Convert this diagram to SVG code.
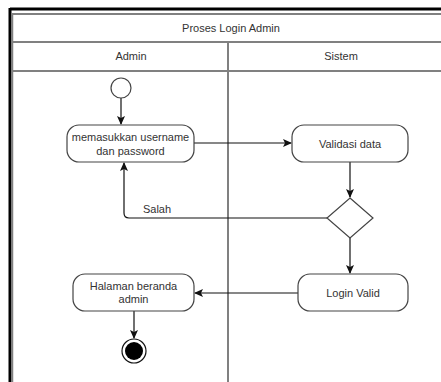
<svg xmlns="http://www.w3.org/2000/svg" width="441" height="382" viewBox="0 0 441 382">
<style>
.lane{stroke:#808080;stroke-width:2;fill:none}
.node{fill:#fff;stroke:#444;stroke-width:1.2}
.t{font-family:"Liberation Sans",Arial,sans-serif;font-size:11px;fill:#333;text-anchor:middle}
.c{stroke:#111;stroke-width:1.2;fill:none}
</style>
<defs>
<marker id="ah" markerWidth="10" markerHeight="10" refX="8" refY="4" orient="auto" markerUnits="userSpaceOnUse">
<path d="M0,0 L9,4 L0,8 L2,4 z" fill="#111"/>
</marker>
</defs>
<rect width="441" height="382" fill="#fff"/>
<g id="frame">
<line x1="10" y1="9" x2="441" y2="9" stroke="#000" stroke-width="3"/>
<line x1="10" y1="8" x2="10" y2="382" stroke="#000" stroke-width="3"/>
<line x1="12.5" y1="14" x2="12.5" y2="382" stroke="#808080" stroke-width="1.5"/>
<line class="lane" x1="12" y1="14" x2="441" y2="14"/>
<line class="lane" x1="12" y1="42" x2="441" y2="42"/>
<line class="lane" x1="12" y1="71" x2="441" y2="71"/>
<line class="lane" x1="228" y1="41" x2="228" y2="382"/>
<text class="t" x="231" y="32">Proses Login Admin</text>
<text class="t" x="131" y="60">Admin</text>
<text class="t" x="341" y="60">Sistem</text>
</g>
<g id="connectors">
<line class="c" x1="121" y1="98" x2="121" y2="124" marker-end="url(#ah)"/>
<line class="c" x1="194" y1="143" x2="291" y2="143" marker-end="url(#ah)"/>
<line class="c" x1="350" y1="162" x2="350" y2="197" marker-end="url(#ah)"/>
<path class="c" d="M328,218 L129,218 Q124,218 124,213 L124,163" marker-end="url(#ah)"/>
<line class="c" x1="350" y1="238" x2="350" y2="273" marker-end="url(#ah)"/>
<line class="c" x1="298" y1="293" x2="195" y2="293" marker-end="url(#ah)"/>
<line class="c" x1="134" y1="311" x2="134" y2="338" marker-end="url(#ah)"/>
<text class="t" x="157" y="213">Salah</text>
</g>
<g id="start"><circle class="node" cx="121" cy="88" r="10"/></g>
<g id="input">
<rect class="node" x="67" y="125" width="127" height="37" rx="12"/>
<text class="t" x="130.5" y="141">memasukkan username</text>
<text class="t" x="130.5" y="155">dan password</text>
</g>
<g id="validasi">
<rect class="node" x="292" y="125" width="116" height="37" rx="12"/>
<text class="t" x="350" y="148">Validasi data</text>
</g>
<g id="decision"><polygon class="node" points="350,198 373,218 350,238 327,218"/></g>
<g id="valid">
<rect class="node" x="298" y="274" width="110" height="37" rx="12"/>
<text class="t" x="353" y="297">Login Valid</text>
</g>
<g id="beranda">
<rect class="node" x="73" y="274" width="121" height="37" rx="12"/>
<text class="t" x="133.5" y="290">Halaman beranda</text>
<text class="t" x="133.5" y="303">admin</text>
</g>
<g id="end">
<circle cx="134" cy="351" r="12" fill="#fff" stroke="#111" stroke-width="1.2"/>
<circle cx="134" cy="351" r="9" fill="#000"/>
</g>
</svg>
